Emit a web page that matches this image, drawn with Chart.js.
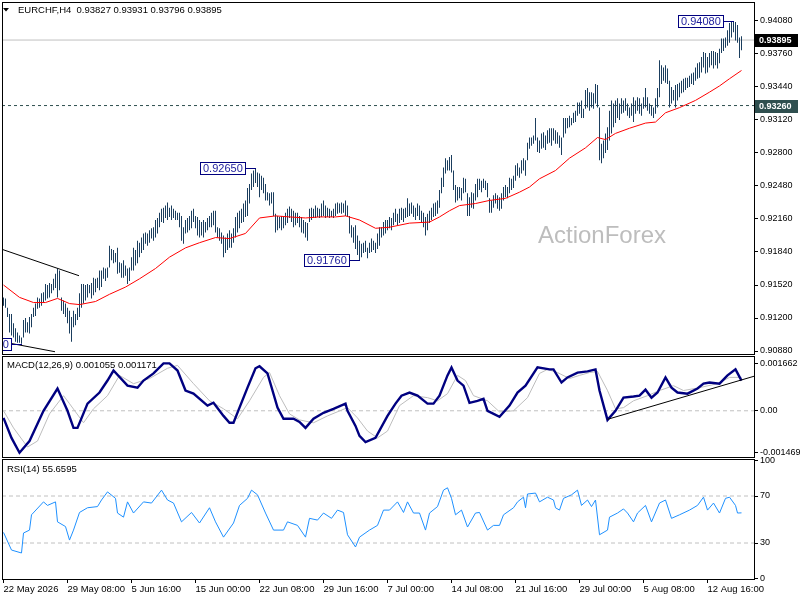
<!DOCTYPE html>
<html>
<head>
<meta charset="utf-8">
<title>EURCHF H4</title>
<script src="https://cdn.jsdelivr.net/npm/chart.js@4.4.1/dist/chart.umd.min.js"></script>
<style>
  html, body { margin: 0; padding: 0; background: #fff; }
  #wrap { position: relative; width: 800px; height: 600px; overflow: hidden; background: #fff; }
  #wrap canvas { position: absolute; left: 0; }
</style>
</head>
<body>
<div id="wrap">
  <canvas id="priceChart" width="800" height="356" style="top:0px"></canvas>
  <canvas id="macdChart" width="800" height="104" style="top:354px"></canvas>
  <canvas id="rsiChart" width="800" height="143" style="top:457px"></canvas>
</div>
<script>
// ---- data ----
const symbol = "EURCHF,H4";
const lastOHLC = [0.93827, 0.93931, 0.93796, 0.93895];

// H4 bar highs / lows, one per bar starting 22 May 2026 00:00
const highs = [
  0.9140,0.9139,0.9130,0.9124,0.9124,0.9115,0.9110,0.9106,0.9103,0.9101,
  0.9118,0.9120,0.9116,0.9121,0.9124,0.9130,0.9134,0.9140,0.9139,0.9144,
  0.9145,0.9153,0.9152,0.9154,0.9153,0.9158,0.9163,0.9168,0.9166,0.9140,
  0.9137,0.9134,0.9130,0.9127,0.9121,0.9127,0.9124,0.9130,0.9144,0.9153,
  0.9153,0.9152,0.9153,0.9152,0.9154,0.9159,0.9158,0.9159,0.9166,0.9166,
  0.9169,0.9168,0.9169,0.9190,0.9187,0.9186,0.9183,0.9188,0.9174,0.9173,
  0.9176,0.9171,0.9168,0.9169,0.9179,0.9188,0.9186,0.9195,0.9193,0.9198,
  0.9202,0.9203,0.9202,0.9205,0.9207,0.9208,0.9215,0.9217,0.9222,0.9226,
  0.9227,0.9229,0.9232,0.9227,0.9229,0.9226,0.9224,0.9222,0.9222,0.9219,
  0.9208,0.9215,0.9217,0.9219,0.9224,0.9226,0.9219,0.9218,0.9215,0.9213,
  0.9215,0.9213,0.9217,0.9219,0.9222,0.9224,0.9224,0.9208,0.9207,0.9203,
  0.9200,0.9198,0.9202,0.9205,0.9202,0.9207,0.9218,0.9222,0.9224,0.9226,
  0.9231,0.9234,0.9246,0.9250,0.9260,0.9263,0.9265,0.9261,0.9260,0.9258,
  0.9256,0.9250,0.9242,0.9241,0.9242,0.9242,0.9221,0.9219,0.9218,0.9219,
  0.9218,0.9222,0.9226,0.9228,0.9226,0.9224,0.9222,0.9222,0.9219,0.9218,
  0.9215,0.9213,0.9212,0.9226,0.9227,0.9226,0.9229,0.9227,0.9226,0.9231,
  0.9234,0.9229,0.9227,0.9226,0.9224,0.9226,0.9231,0.9232,0.9231,0.9232,
  0.9231,0.9234,0.9229,0.9219,0.9210,0.9208,0.9210,0.9200,0.9195,0.9192,
  0.9193,0.9195,0.9188,0.9193,0.9197,0.9195,0.9193,0.9202,0.9208,0.9208,
  0.9213,0.9215,0.9215,0.9218,0.9217,0.9222,0.9226,0.9221,0.9226,0.9227,
  0.9226,0.9227,0.9236,0.9231,0.9232,0.9229,0.9227,0.9231,0.9229,0.9224,
  0.9222,0.9218,0.9221,0.9224,0.9227,0.9231,0.9232,0.9234,0.9244,0.9256,
  0.9266,0.9275,0.9273,0.9276,0.9278,0.9263,0.9249,0.9247,0.9247,0.9246,
  0.9256,0.9255,0.9241,0.9237,0.9242,0.9241,0.9250,0.9255,0.9255,0.9253,
  0.9255,0.9253,0.9251,0.9236,0.9234,0.9239,0.9241,0.9239,0.9237,0.9241,
  0.9247,0.9249,0.9247,0.9256,0.9255,0.9258,0.9268,0.9270,0.9266,0.9273,
  0.9275,0.9273,0.9290,0.9295,0.9295,0.9297,0.9314,0.9295,0.9292,0.9299,
  0.9300,0.9297,0.9302,0.9304,0.9304,0.9304,0.9302,0.9300,0.9297,0.9295,
  0.9314,0.9314,0.9314,0.9316,0.9314,0.9319,0.9321,0.9329,0.9329,0.9331,
  0.9323,0.9341,0.9343,0.9339,0.9339,0.9338,0.9347,0.9346,0.9324,0.9289,
  0.9292,0.9299,0.9305,0.9321,0.9331,0.9328,0.9331,0.9333,0.9328,0.9333,
  0.9331,0.9333,0.9328,0.9324,0.9328,0.9334,0.9331,0.9334,0.9333,0.9328,
  0.9334,0.9343,0.9334,0.9328,0.9326,0.9324,0.9333,0.9343,0.9370,0.9365,
  0.9363,0.9365,0.9362,0.9350,0.9344,0.9341,0.9346,0.9347,0.9348,0.9350,
  0.9352,0.9353,0.9353,0.9355,0.9357,0.9358,0.9363,0.9367,0.9368,0.9373,
  0.9378,0.9377,0.9373,0.9377,0.9379,0.9379,0.9378,0.9377,0.9381,0.9391,
  0.9391,0.9392,0.9399,0.9406,0.9407,0.9408,0.9407,0.9404,0.9392,0.93931
];
const lows = [
  0.9132,0.9130,0.9121,0.9106,0.9103,0.9101,0.9097,0.9096,0.9096,0.9095,
  0.9101,0.9106,0.9106,0.9105,0.9111,0.9121,0.9122,0.9129,0.9130,0.9132,
  0.9135,0.9137,0.9139,0.9140,0.9144,0.9147,0.9149,0.9140,0.9147,0.9127,
  0.9124,0.9121,0.9115,0.9105,0.9097,0.9111,0.9113,0.9118,0.9121,0.9130,
  0.9134,0.9137,0.9140,0.9144,0.9139,0.9142,0.9145,0.9149,0.9147,0.9150,
  0.9158,0.9156,0.9159,0.9169,0.9176,0.9173,0.9174,0.9163,0.9164,0.9159,
  0.9159,0.9161,0.9153,0.9156,0.9166,0.9166,0.9171,0.9173,0.9179,0.9183,
  0.9186,0.9192,0.9190,0.9193,0.9197,0.9195,0.9198,0.9202,0.9208,0.9213,
  0.9212,0.9217,0.9215,0.9218,0.9215,0.9217,0.9215,0.9215,0.9208,0.9195,
  0.9192,0.9202,0.9203,0.9205,0.9207,0.9213,0.9207,0.9200,0.9198,0.9200,
  0.9198,0.9203,0.9205,0.9208,0.9208,0.9210,0.9203,0.9198,0.9195,0.9192,
  0.9179,0.9183,0.9186,0.9188,0.9188,0.9193,0.9198,0.9203,0.9207,0.9212,
  0.9213,0.9218,0.9219,0.9231,0.9244,0.9247,0.9251,0.9247,0.9237,0.9244,
  0.9241,0.9234,0.9234,0.9229,0.9231,0.9219,0.9203,0.9205,0.9207,0.9205,
  0.9207,0.9210,0.9212,0.9217,0.9213,0.9208,0.9210,0.9212,0.9208,0.9203,
  0.9202,0.9198,0.9195,0.9213,0.9215,0.9217,0.9217,0.9218,0.9217,0.9218,
  0.9219,0.9217,0.9218,0.9217,0.9218,0.9217,0.9219,0.9221,0.9222,0.9221,
  0.9222,0.9219,0.9218,0.9202,0.9198,0.9193,0.9187,0.9181,0.9176,0.9179,
  0.9183,0.9184,0.9178,0.9183,0.9184,0.9186,0.9183,0.9187,0.9190,0.9198,
  0.9200,0.9202,0.9205,0.9207,0.9205,0.9210,0.9213,0.9210,0.9212,0.9215,
  0.9213,0.9217,0.9218,0.9219,0.9221,0.9218,0.9215,0.9219,0.9215,0.9212,
  0.9208,0.9200,0.9205,0.9212,0.9215,0.9218,0.9219,0.9221,0.9227,0.9241,
  0.9247,0.9260,0.9263,0.9263,0.9261,0.9244,0.9232,0.9234,0.9236,0.9234,
  0.9241,0.9242,0.9219,0.9219,0.9227,0.9226,0.9234,0.9237,0.9244,0.9242,
  0.9246,0.9244,0.9237,0.9222,0.9222,0.9227,0.9231,0.9226,0.9224,0.9226,
  0.9234,0.9237,0.9236,0.9241,0.9244,0.9246,0.9253,0.9258,0.9256,0.9260,
  0.9263,0.9258,0.9273,0.9284,0.9287,0.9289,0.9292,0.9281,0.9280,0.9284,
  0.9285,0.9283,0.9289,0.9290,0.9287,0.9292,0.9289,0.9289,0.9285,0.9278,
  0.9295,0.9299,0.9304,0.9305,0.9307,0.9309,0.9310,0.9316,0.9318,0.9314,
  0.9314,0.9323,0.9324,0.9321,0.9324,0.9323,0.9328,0.9324,0.9273,0.9270,
  0.9275,0.9280,0.9283,0.9292,0.9299,0.9305,0.9309,0.9314,0.9312,0.9318,
  0.9319,0.9321,0.9316,0.9314,0.9316,0.9310,0.9318,0.9321,0.9318,0.9316,
  0.9323,0.9324,0.9321,0.9318,0.9316,0.9314,0.9318,0.9324,0.9334,0.9347,
  0.9350,0.9348,0.9347,0.9324,0.9328,0.9331,0.9324,0.9331,0.9334,0.9338,
  0.9339,0.9341,0.9343,0.9344,0.9347,0.9346,0.9350,0.9352,0.9353,0.9358,
  0.9363,0.9357,0.9358,0.9363,0.9365,0.9362,0.9365,0.9362,0.9367,0.9377,
  0.9379,0.9382,0.9384,0.9387,0.9392,0.9397,0.9389,0.9387,0.9372,0.93796
];

// red moving average (bar index, value)
const maIdx = [0,8,15,21,27,33,38,46,53,61,68,76,83,91,98,106,113,121,128,136,143,151,158,166,171,178,186,193,203,213,218,223,228,236,243,251,258,263,268,276,283,291,297,301,306,313,321,326,331,338,346,353,358,363,369];
const maVal = [0.9152,0.9140,0.9135,0.9135,0.9139,0.9134,0.9133,0.9136,0.9143,0.9150,0.9158,0.9168,0.9179,0.9188,0.9193,0.9198,0.9197,0.9202,0.9217,0.9219,0.9218,0.9217,0.9218,0.9218,0.9219,0.9215,0.9207,0.9208,0.9212,0.9213,0.9218,0.9224,0.9229,0.9231,0.9234,0.9236,0.9242,0.9247,0.9255,0.9263,0.9275,0.9285,0.9295,0.9293,0.9299,0.9304,0.9309,0.9310,0.9319,0.9324,0.9331,0.9339,0.9345,0.9352,0.9360];

// MACD(12,26,9) main and signal
const macdIdx = [0,4,8,13,20,27,32,35,37,42,48,52,55,62,67,70,75,80,83,87,91,95,102,105,110,113,115,118,122,126,128,132,137,140,145,148,151,155,160,165,171,172,176,178,181,186,192,196,199,203,207,212,215,218,222,224,227,230,233,237,240,242,248,253,257,261,267,273,275,279,282,287,292,296,298,302,306,310,315,318,321,324,327,331,334,337,342,347,350,353,358,362,366,369];
const macdVal = [-0.00025,-0.00095,-0.00147,-0.00106,0,0.00078,0,-0.00060,-0.00060,0.00025,0.00064,0.00106,0.00141,0.00088,0.00081,0.00106,0.00131,0.00166,0.00166,0.00141,0.00071,0.00060,0.00018,0.00028,-0.00018,-0.00042,-0.00042,0.00011,0.00081,0.00149,0.00156,0.00131,0.00011,-0.00028,-0.00028,-0.00039,-0.00060,-0.00028,-0.00007,0.00007,0.00025,0,-0.00053,-0.00088,-0.00110,-0.00095,-0.00018,0.00025,0.00053,0.00064,0.00053,0.00025,0.00025,0.00053,0.00124,0.00152,0.00106,0.00088,0.00028,0.00035,0.00042,0,-0.00021,0.00018,0.00064,0.00088,0.00152,0.00145,0.00145,0.00099,0.00117,0.00134,0.00138,0.00145,0.00071,-0.00032,0,0.00046,0.00050,0.00053,0.00074,0.00046,0.00064,0.00117,0.00081,0.00064,0.00060,0.00078,0.00095,0.00099,0.00095,0.00124,0.00145,0.001055];
const sigIdx = [0,5,12,17,23,30,33,40,45,52,58,65,73,82,87,95,103,110,117,123,130,133,138,143,148,155,162,172,177,182,187,192,198,205,212,217,222,227,231,235,242,248,255,262,268,272,277,283,288,293,297,302,306,310,315,322,328,335,340,348,357,363,369];
const sigVal = [0,-0.00060,-0.00127,-0.00106,-0.00011,0.00053,0.00025,-0.00042,0.00007,0.00053,0.00124,0.00095,0.00113,0.00149,0.00159,0.00095,0.00035,0.00007,-0.00028,0.00035,0.00117,0.00134,0.00053,-0.00011,-0.00032,-0.00042,-0.00018,0.00011,-0.00025,-0.00071,-0.00095,-0.00071,0.00018,0.00053,0.00046,0.00035,0.00060,0.00124,0.00106,0.00053,0.00035,-0.00004,0,0.00046,0.00131,0.00145,0.00134,0.00113,0.00124,0.00134,0.00138,0.00071,0.00007,0.00011,0.00035,0.00053,0.00071,0.00088,0.00071,0.00081,0.00095,0.00117,0.001171];

// RSI(14)
const rsiIdx = [0,4,9,10,13,14,20,22,26,27,31,33,35,38,42,47,49,52,56,57,60,62,65,70,74,79,82,85,89,94,98,103,106,110,115,118,122,124,127,131,135,140,142,147,151,153,157,160,164,167,170,172,176,178,183,187,190,193,197,200,202,205,208,211,213,217,220,222,224,226,229,232,236,238,242,245,248,250,255,257,260,261,262,266,268,272,275,276,278,280,284,287,289,292,294,296,298,302,303,307,310,312,315,317,321,324,328,331,334,338,343,347,350,352,355,358,361,363,366,367,369];
const rsiVal = [39,24,21.5,38.5,41,54,65,62,65,48,44,32.5,41,56,60,61,66.6,73.5,68,55.5,52,65,55.5,65,64,75,66.6,64,48,56,47,60,48,35,47,62,68,75,71,55.5,41,41,48,45,35,51,49.5,55.5,51,58,56,37,26.6,35,41,45,58,58,65,56,65,55.5,55.5,41,55.5,61,75,77,68,54,58,43.6,55.5,56,41,45,45,54,60,65,69,60,71.7,72.5,65,69,66.6,60,58,68,71,75,62,66.6,61,66.6,37,41,52,55.5,59,55.5,48,55.5,62,48,64,66.6,51,54,58,62,69,58,64,55.5,68,69,62,55.5,55.6595];

// axis ticks
const timeIdx = [0,32,64,96,128,160,192,224,256,288,320,352];
const timeLabels = ["22 May 2026","29 May 08:00","5 Jun 16:00","15 Jun 00:00","22 Jun 08:00","29 Jun 16:00","7 Jul 00:00","14 Jul 08:00","21 Jul 16:00","29 Jul 00:00","5 Aug 08:00","12 Aug 16:00"];
const priceTicks = [0.90880,0.91200,0.91520,0.91840,0.92160,0.92480,0.92800,0.93120,0.93440,0.93760,0.94080];
const macdTicks = [-0.001469, 0, 0.001662];
const rsiTicks = [0, 30, 70, 100];
const rsiLevels = [70, 30];
const priceLevel = 0.93260;

// swing labels and drawn trend lines
const swingIdx = [9, 126, 178, 365];
const swingVal = [0.90950, 0.92650, 0.91760, 0.94080];
const upperTrendIdx = [-0.75, 37.75];
const upperTrendVal = [0.91866, 0.91610];
const lowerTrendIdx = [-0.75, 25.75];
const lowerTrendVal = [0.90970, 0.90873];
const macdTrendIdx = [302, 375.25];
const macdTrendVal = [-0.00030, 0.00121];

// ---- chart setup ----
const X_MIN = -0.75, X_MAX = 375.25;
const FONT = '"Liberation Sans", Arial, sans-serif';
Chart.defaults.font.family = FONT;
Chart.defaults.font.size = 9.5;
Chart.defaults.color = '#000';

const pts = (idx, val) => idx.map((v, i) => ({ x: v, y: val[i] }));

function lineSet(data, color, width, dash, order) {
  return { type: 'line', data, borderColor: color, borderWidth: width, borderDash: dash || [],
    pointRadius: 0, fill: false, tension: 0, order };
}

function xScale(show) {
  return {
    type: 'linear', min: X_MIN, max: X_MAX, offset: false, display: show,
    grid: { display: show, drawOnChartArea: false, drawTicks: true, tickLength: 4, color: '#000', offset: false },
    border: { display: false },
    ticks: { align: 'start', padding: 1, maxRotation: 0, autoSkip: false, color: '#000',
      font: { size: 9.5 }, callback: (v, i) => timeLabels[i] },
    afterBuildTicks: s => { s.ticks = timeIdx.map(v => ({ value: v })); },
    afterFit: s => {
      if (show) s.height = 21;
      s.paddingLeft = 0; s.paddingRight = 0;
    }
  };
}

function yScale(min, max, tickVals, fmt) {
  return {
    position: 'right', min, max,
    grid: { drawOnChartArea: false, drawTicks: true, tickLength: 4, color: '#000' },
    border: { display: false },
    ticks: { padding: 2, color: '#000', font: { size: 9 }, callback: fmt },
    afterBuildTicks: s => { s.ticks = tickVals.map(v => ({ value: v })); },
    afterFit: s => { s.width = 46; s.paddingTop = 0; s.paddingBottom = 0; }
  };
}

const frame = {
  id: 'frame',
  afterDraw(chart) {
    const { ctx, chartArea: a } = chart;
    ctx.save();
    ctx.strokeStyle = '#000';
    ctx.lineWidth = 1;
    ctx.strokeRect(a.left + 0.5, a.top + 0.5, a.right - a.left, a.bottom - a.top);
    ctx.restore();
  }
};

function caption(text, x, y) {
  return {
    id: 'caption',
    afterDraw(chart) {
      const ctx = chart.ctx;
      ctx.save();
      ctx.font = '9.5px ' + FONT;
      ctx.fillStyle = '#000';
      ctx.textBaseline = 'middle';
      ctx.fillText(text, x, y);
      ctx.restore();
    }
  };
}

const priceExtras = {
  id: 'priceExtras',
  beforeDatasetsDraw(chart) {
    const ctx = chart.ctx;
    ctx.save();
    ctx.font = '24px ' + FONT;
    ctx.fillStyle = '#bdbdbd';
    ctx.textBaseline = 'middle';
    ctx.fillText('ActionForex', 538, 236);
    ctx.restore();
  },
  afterDatasetsDraw(chart) {
    const { ctx, chartArea: a, scales: { x, y } } = chart;
    ctx.save();
    ctx.beginPath();
    ctx.rect(a.left, a.top, a.right - a.left, a.bottom - a.top);
    ctx.clip();
    ctx.font = '11px ' + FONT;
    ctx.textBaseline = 'middle';
    ctx.lineWidth = 1;
    swingIdx.forEach((idx, k) => {
      const px = Math.round(x.getPixelForValue(idx));
      const py = Math.round(y.getPixelForValue(swingVal[k])) + 0.5;
      const txt = swingVal[k].toFixed(5);
      const w = Math.ceil(ctx.measureText(txt).width) + 6;
      const right = px - 10;
      ctx.fillStyle = '#fff';
      ctx.fillRect(right - w, py - 6.5, w, 13);
      ctx.strokeStyle = '#00007f';
      ctx.strokeRect(right - w + 0.5, py - 6, w - 1, 12);
      ctx.beginPath();
      ctx.moveTo(right, py);
      ctx.lineTo(px, py);
      ctx.stroke();
      ctx.fillStyle = '#1c1c9c';
      ctx.fillText(txt, right - w + 3, py + 0.5);
    });
    ctx.restore();
  },
  afterDraw(chart) {
    const { ctx, scales: { y } } = chart;
    ctx.save();
    // header
    ctx.fillStyle = '#000';
    ctx.beginPath();
    ctx.moveTo(3, 8); ctx.lineTo(9, 8); ctx.lineTo(6, 11.5); ctx.closePath();
    ctx.fill();
    ctx.font = '9.5px ' + FONT;
    ctx.textBaseline = 'middle';
    ctx.fillText(symbol + '  ' + lastOHLC.map(v => v.toFixed(5)).join(' '), 18, 10);
    // price tags on the axis
    const tag = (val, bg) => {
      const py = Math.round(y.getPixelForValue(val));
      ctx.fillStyle = bg;
      ctx.fillRect(755, py - 6, 43, 13);
      ctx.fillStyle = '#fff';
      ctx.font = 'bold 9px ' + FONT;
      ctx.fillText(val.toFixed(5), 759, py + 0.5);
    };
    tag(lastOHLC[3], '#000');
    tag(priceLevel, '#2f4f4f');
    ctx.restore();
  }
};

const common = { responsive: false, animation: false, events: [], devicePixelRatio: 1,
  plugins: { legend: { display: false }, tooltip: { enabled: false } } };

new Chart(document.getElementById('priceChart'), {
  type: 'bar',
  data: {
    datasets: [
      { type: 'bar', data: highs.map((h, i) => ({ x: i, y: [lows[i], h] })),
        backgroundColor: '#1b3e5e', barThickness: 1, inflateAmount: 0, borderWidth: 0,
        grouped: false, order: 3 },
      lineSet(pts([X_MIN, X_MAX], [lastOHLC[3], lastOHLC[3]]), '#c0c0c0', 1, null, 5),
      lineSet(pts([X_MIN, X_MAX], [priceLevel, priceLevel]), '#2f4f4f', 1, [3, 3], 4),
      lineSet(pts(maIdx, maVal), '#ff0000', 1, null, 2),
      lineSet(pts(upperTrendIdx, upperTrendVal), '#000', 1, null, 1),
      lineSet(pts(lowerTrendIdx, lowerTrendVal), '#000', 1, null, 1)
    ]
  },
  options: Object.assign({}, common, {
    layout: { padding: { left: 2, top: 2, right: 0, bottom: 2 } },
    scales: {
      x: xScale(false),
      y: yScale(0.90851, 0.94264, priceTicks, v => v.toFixed(5))
    }
  }),
  plugins: [priceExtras, frame]
});

new Chart(document.getElementById('macdChart'), {
  type: 'line',
  data: {
    datasets: [
      lineSet(pts([X_MIN, X_MAX], [0, 0]), '#c0c0c0', 1, [4, 3], 4),
      lineSet(pts(sigIdx, sigVal), '#bdbdbd', 1, null, 3),
      lineSet(pts(macdIdx, macdVal), '#000080', 2.4, null, 2),
      lineSet(pts(macdTrendIdx, macdTrendVal), '#000', 1, null, 1)
    ]
  },
  options: Object.assign({}, common, {
    layout: { padding: { left: 2, top: 2, right: 0, bottom: 1 } },
    scales: {
      x: xScale(false),
      y: yScale(-0.00162, 0.00192, macdTicks, v => v === 0 ? '0.00' : v.toFixed(6))
    }
  }),
  plugins: [caption('MACD(12,26,9) ' + macdVal[macdVal.length - 1].toFixed(6) + ' ' + sigVal[sigVal.length - 1].toFixed(6), 7, 11), frame]
});

new Chart(document.getElementById('rsiChart'), {
  type: 'line',
  data: {
    datasets: [
      lineSet(pts([X_MIN, X_MAX], [rsiLevels[0], rsiLevels[0]]), '#c0c0c0', 1, [4, 3], 3),
      lineSet(pts([X_MIN, X_MAX], [rsiLevels[1], rsiLevels[1]]), '#c0c0c0', 1, [4, 3], 3),
      lineSet(pts(rsiIdx, rsiVal), '#1e90ff', 1, null, 1)
    ]
  },
  options: Object.assign({}, common, {
    layout: { padding: { left: 2, top: 2, right: 0, bottom: 0 } },
    scales: {
      x: xScale(true),
      y: yScale(-0.64, 101.5, rsiTicks, v => String(v))
    }
  }),
  plugins: [caption('RSI(14) ' + rsiVal[rsiVal.length - 1].toFixed(4), 7, 12), frame]
});
</script>
</body>
</html>
